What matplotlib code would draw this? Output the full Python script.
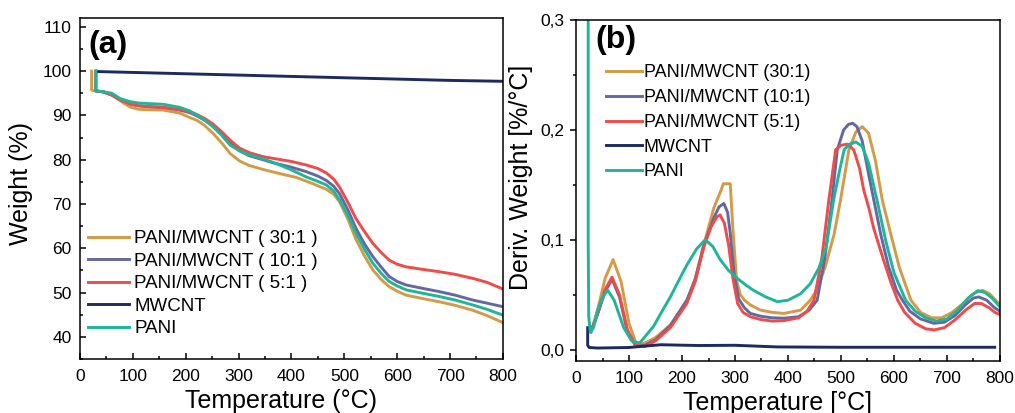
import matplotlib
matplotlib.use('Agg')
import matplotlib.pyplot as plt
from matplotlib.ticker import MultipleLocator, FuncFormatter

plt.rcParams['font.family'] = ['Liberation Sans', 'DejaVu Sans']

# ---- colours / labels
colors = {'30': '#D49A45', '10': '#6468A0', '5': '#EF4B4B', 'mw': '#1C2A62', 'pani': '#1FB59A'}

# ---- (a) TGA data : temperature (C), weight (%)
tga_T_30 = [22, 22, 30, 45, 63, 80, 95, 110, 126, 158, 189, 208, 221, 235, 252, 268, 284, 302, 320, 346,
            380, 409, 440, 466, 480, 491, 507, 522, 538, 554, 570, 585, 600, 617, 650, 680, 710, 743, 770, 800]
tga_W_30 = [100, 95.7, 95.5, 95.3, 94.5, 93.0, 91.9, 91.4, 91.3, 91.2, 90.5, 89.5, 88.9, 87.8, 85.9, 83.8, 81.4, 79.7, 78.7, 77.8,
            76.8, 76.0, 74.6, 73.3, 72.2, 70.5, 66.5, 62.0, 58.3, 55.1, 52.9, 51.3, 50.3, 49.4, 48.6, 47.9, 47.1, 46.0, 44.8, 43.2]

tga_T = [30, 30, 45, 60, 76, 95, 110, 126, 158, 189, 208, 221, 236, 252, 268, 284, 302, 320, 346, 365,
         400, 428, 450, 466, 480, 491, 507, 522, 538, 554, 570, 585, 600, 617, 650, 680, 710, 743, 770, 800]
tga_W_5 = [100, 95.5, 95.3, 94.6, 93.5, 92.6, 92.2, 92.0, 91.8, 91.3, 90.8, 90.2, 89.3, 88.0, 86.3, 84.4, 82.6, 81.6, 80.7, 80.3,
           79.6, 78.8, 78.0, 77.0, 75.6, 73.8, 70.3, 66.7, 63.8, 61.1, 59.0, 57.3, 56.4, 55.8, 55.2, 54.7, 54.1, 53.2, 52.3, 50.8]
tga_W_10 = [100, 95.5, 95.3, 94.6, 93.5, 92.6, 92.2, 92.0, 91.8, 91.2, 90.6, 89.9, 88.9, 87.6, 85.8, 83.7, 82.0, 80.9, 80.0, 79.3,
            78.3, 77.3, 76.3, 75.3, 74.0, 72.3, 68.6, 64.5, 61.0, 58.1, 55.7, 53.6, 52.5, 51.7, 50.9, 50.2, 49.4, 48.3, 47.6, 46.8]
tga_W_pani = [100, 95.6, 95.3, 95.0, 93.8, 93.1, 92.8, 92.7, 92.5, 91.8, 91.0, 90.1, 88.9, 87.4, 85.5, 83.3, 82.0, 81.1, 80.2, 79.4,
              77.7, 76.1, 75.1, 74.3, 72.9, 70.9, 67.4, 63.4, 59.8, 56.6, 54.3, 52.5, 51.5, 50.6, 49.8, 49.1, 48.3, 47.2, 46.2, 44.9]

tga_T_mw = [33, 100, 200, 300, 400, 500, 600, 700, 800]
tga_W_mw = [99.9, 99.7, 99.4, 99.1, 98.8, 98.5, 98.2, 97.9, 97.7]

# ---- (b) DTG data : temperature (C), deriv. weight (%/C)
dtg_T_30 = [25, 28, 40, 55, 70, 85, 100, 113, 130, 150, 178, 209, 225, 241, 260, 272, 278, 291, 296, 303, 310, 318, 329, 348,
            370, 392, 424, 442, 455, 470, 487, 499, 515, 528, 540, 552, 565, 578, 594, 610, 632, 650, 671, 690, 710, 730,
            750, 767, 780, 790, 800]
dtg_D_30 = [0.02, 0.016, 0.035, 0.065, 0.082, 0.062, 0.024, 0.006, 0.006, 0.011, 0.0225, 0.0437, 0.065, 0.095, 0.129, 0.143,
            0.151, 0.151, 0.11, 0.063, 0.05, 0.045, 0.0407, 0.036, 0.034, 0.033, 0.036, 0.045, 0.055, 0.075, 0.105, 0.136,
            0.182, 0.198, 0.203, 0.197, 0.172, 0.136, 0.105, 0.075, 0.045, 0.034, 0.029, 0.029, 0.034, 0.042, 0.051, 0.054,
            0.051, 0.046, 0.041]

dtg_T_10 = [25, 28, 40, 55, 68, 82, 97, 112, 130, 150, 178, 209, 225, 241, 260, 270, 279, 286, 291, 298, 307, 318, 329, 348,
            370, 392, 420, 440, 455, 470, 483, 493, 505, 514, 522, 530, 540, 552, 562, 575, 590, 605, 616, 630, 650, 675,
            695, 715, 735, 750, 760, 775, 790, 800]
dtg_D_10 = [0.02, 0.016, 0.031, 0.053, 0.064, 0.048, 0.016, 0.004, 0.004, 0.009, 0.022, 0.045, 0.064, 0.095, 0.12, 0.13,
            0.133, 0.125, 0.106, 0.07, 0.046, 0.038, 0.033, 0.0305, 0.029, 0.0286, 0.03, 0.036, 0.045, 0.085, 0.136, 0.182,
            0.2, 0.205, 0.206, 0.203, 0.19, 0.16, 0.136, 0.105, 0.075, 0.054, 0.045, 0.035, 0.028, 0.024, 0.025, 0.031,
            0.041, 0.047, 0.048, 0.045, 0.038, 0.035]

dtg_T_5 = [25, 28, 40, 55, 68, 82, 97, 112, 130, 150, 178, 209, 225, 241, 255, 266, 272, 280, 288, 296, 305, 315, 329, 348,
           370, 392, 420, 436, 449, 463, 477, 490, 500, 512, 524, 535, 543, 552, 562, 580, 595, 607, 620, 640, 660, 676,
           695, 715, 735, 752, 765, 780, 790, 800]
dtg_D_5 = [0.02, 0.016, 0.032, 0.055, 0.066, 0.05, 0.018, 0.004, 0.003, 0.008, 0.02, 0.042, 0.062, 0.093, 0.112, 0.121,
           0.1226, 0.115, 0.095, 0.065, 0.042, 0.034, 0.030, 0.0275, 0.026, 0.0264, 0.029, 0.035, 0.045, 0.08, 0.136, 0.182,
           0.186, 0.187, 0.182, 0.165, 0.145, 0.13, 0.11, 0.082, 0.06, 0.045, 0.034, 0.024, 0.019, 0.018, 0.02, 0.027,
           0.036, 0.042, 0.042, 0.038, 0.034, 0.032]

dtg_T_pani = [23, 23, 24, 27, 33, 40, 50, 60, 72, 90, 105, 120, 146, 160, 178, 195, 209, 228, 244, 258, 272, 288, 304, 320,
              335, 358, 380, 400, 424, 442, 458, 472, 486, 496, 506, 516, 528, 540, 552, 568, 585, 600, 622, 640, 660, 680,
              700, 720, 740, 758, 772, 785, 800]
dtg_D_pani = [0.35, 0.10, 0.03, 0.016, 0.02, 0.035, 0.048, 0.054, 0.045, 0.02, 0.008, 0.006, 0.021, 0.033, 0.048, 0.064,
              0.077, 0.092, 0.100, 0.094, 0.082, 0.072, 0.065, 0.059, 0.054, 0.048, 0.0437, 0.045, 0.051, 0.06, 0.074, 0.093,
              0.136, 0.16, 0.182, 0.187, 0.189, 0.185, 0.17, 0.136, 0.098, 0.07, 0.045, 0.035, 0.029, 0.026, 0.028, 0.036,
              0.047, 0.0537, 0.052, 0.047, 0.039]

dtg_T_mw = [22, 22, 25, 40, 100, 160, 230, 300, 380, 500, 600, 700, 790]
dtg_D_mw = [0.02, 0.004, 0.002, 0.0015, 0.002, 0.0045, 0.0038, 0.004, 0.0025, 0.0022, 0.0022, 0.0022, 0.0022]

fig = plt.figure(figsize=(10.15, 4.13), dpi=100)
axA = fig.add_axes([0.0788, 0.1308, 0.4167, 0.8257])
axB = fig.add_axes([0.5675, 0.1259, 0.4177, 0.8257])

lw = 2.1

# ---------- panel (a)
axA.plot(tga_T_30, tga_W_30, color=colors['30'], lw=lw, label='PANI/MWCNT ( 30:1 )')
axA.plot(tga_T, tga_W_10, color=colors['10'], lw=lw, label='PANI/MWCNT ( 10:1 )')
axA.plot(tga_T, tga_W_5, color=colors['5'], lw=lw, label='PANI/MWCNT ( 5:1 )')
axA.plot(tga_T_mw, tga_W_mw, color=colors['mw'], lw=lw, label='MWCNT')
axA.plot(tga_T, tga_W_pani, color=colors['pani'], lw=lw, label='PANI')

axA.set_xlim(0, 800)
axA.set_ylim(35, 112)
axA.xaxis.set_major_locator(MultipleLocator(100))
axA.xaxis.set_minor_locator(MultipleLocator(50))
axA.yaxis.set_major_locator(MultipleLocator(10))
axA.yaxis.set_minor_locator(MultipleLocator(5))
axA.tick_params(which='both', direction='in', labelsize=12.5, width=1.1)
axA.tick_params(which='major', length=4.5)
axA.tick_params(which='minor', length=2.5)
axA.tick_params(axis='x', pad=7)
axA.tick_params(axis='y', pad=6)
axA.set_xlabel('Temperature (°C)', fontsize=18)
axA.set_ylabel('Weight (%)', fontsize=18)
axA.xaxis.set_label_coords(0.475, -0.088)
axA.yaxis.set_label_coords(-0.111, 0.516)
axA.text(0.021, 0.965, '(a)', transform=axA.transAxes, fontsize=23, fontweight='bold', va='top', ha='left')
axA.legend(loc='upper left', bbox_to_anchor=(0.018, 0.378), frameon=False, fontsize=13.5,
           handlelength=2.2, handletextpad=0.3, labelspacing=0.29, borderpad=0, borderaxespad=0)

# ---------- panel (b)
axB.plot(dtg_T_30, dtg_D_30, color=colors['30'], lw=lw, label='PANI/MWCNT (30:1)')
axB.plot(dtg_T_10, dtg_D_10, color=colors['10'], lw=lw, label='PANI/MWCNT (10:1)')
axB.plot(dtg_T_5, dtg_D_5, color=colors['5'], lw=lw, label='PANI/MWCNT (5:1)')
axB.plot(dtg_T_mw, dtg_D_mw, color=colors['mw'], lw=lw, label='MWCNT')
axB.plot(dtg_T_pani, dtg_D_pani, color=colors['pani'], lw=lw, label='PANI')

axB.set_xlim(0, 800)
axB.set_ylim(-0.0103, 0.3)
axB.xaxis.set_major_locator(MultipleLocator(100))
axB.xaxis.set_minor_locator(MultipleLocator(50))
axB.yaxis.set_major_locator(MultipleLocator(0.1))
axB.yaxis.set_minor_locator(MultipleLocator(0.05))
axB.yaxis.set_major_formatter(FuncFormatter(lambda v, p: ('%.1f' % v).replace('.', ',')))
axB.tick_params(which='both', labelsize=12.5, width=1.1)
axB.tick_params(axis='x', which='both', direction='in', pad=7)
axB.tick_params(axis='y', which='both', direction='out', pad=4)
axB.tick_params(which='major', length=4.5)
axB.tick_params(which='minor', length=2.5)
axB.set_xlabel('Temperature [°C]', fontsize=18)
axB.set_ylabel('Deriv. Weight [%/°C]', fontsize=18)
axB.xaxis.set_label_coords(0.476, -0.088)
axB.yaxis.set_label_coords(-0.101, 0.538)
axB.text(0.045, 0.985, '(b)', transform=axB.transAxes, fontsize=23, fontweight='bold', va='top', ha='left')
axB.legend(loc='upper left', bbox_to_anchor=(0.07, 0.87), frameon=False, fontsize=13,
           handlelength=2.0, handletextpad=0.1, labelspacing=0.43, borderpad=0, borderaxespad=0)

for ax in (axA, axB):
    for s in ax.spines.values():
        s.set_linewidth(1.1)

fig.savefig('out.png', dpi=100)
